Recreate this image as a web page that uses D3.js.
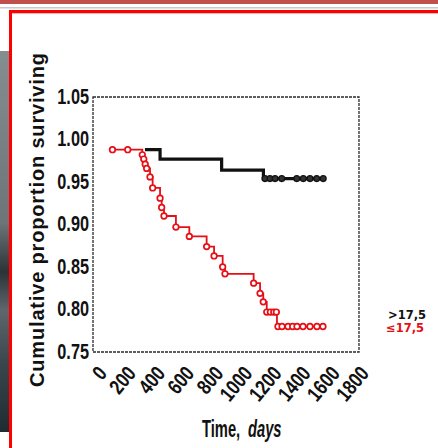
<!DOCTYPE html>
<html>
<head>
<meta charset="utf-8">
<script src="https://cdn.jsdelivr.net/npm/d3@7/dist/d3.min.js"></script>
<style>
  body { margin: 0; background: #fff; overflow: hidden; }
  svg { display: block; }
</style>
</head>
<body>
<svg id="chart" width="438" height="448"></svg>
<script>
// ---- data ----
const yTicks = [0.75, 0.80, 0.85, 0.90, 0.95, 1.00, 1.05];
const yTickLabels = ["0.75", "0.80", "0.85", "0.90", "0.95", "1.00", "1.05"];
const xTicks = [0, 200, 400, 600, 800, 1000, 1200, 1400, 1600, 1800];

// <=17,5 group (red): step times and survival after each step
const lowDays = [118, 325, 335, 345, 355, 378, 396, 447, 458, 474, 556, 648, 767, 818, 877, 893, 1090, 1134, 1156, 1180, 1250, 1580];
const lowSurv = [0.988, 0.982, 0.977, 0.971, 0.966, 0.956, 0.943, 0.931, 0.920, 0.910, 0.897, 0.886, 0.874, 0.863, 0.850, 0.842, 0.831, 0.819, 0.809, 0.797, 0.780, 0.780];
const lowMarks = [120, 225, 325, 335, 345, 355, 378, 396, 447, 458, 474, 556, 648, 767, 818, 877, 893, 1090, 1134, 1156, 1180, 1205, 1228, 1246,
                  1257, 1285, 1326, 1358, 1388, 1429, 1477, 1525, 1566];

// >17,5 group (black)
const highDays = [343, 447, 870, 1157, 1580];
const highSurv = [0.988, 0.977, 0.964, 0.954, 0.954];
const highMarks = [1168, 1202, 1237, 1283, 1386, 1431, 1477, 1523, 1568];

const legendLabels = [">17,5", "\u226417,5"];
const yTitle = "Cumulative proportion surviving";

// ---- layout ----
const svg = d3.select("#chart");
const plot = { left: 93, top: 97, right: 359, bottom: 352 };
const x = d3.scaleLinear().domain([0, 1800]).range([95, 357]);
const y = d3.scaleLinear().domain([0.75, 1.05]).range([plot.bottom, plot.top]);
const RED = "#e60f16";

// slide decoration
svg.append("rect").attr("x", 0).attr("y", 0).attr("width", 438).attr("height", 4).attr("fill", "#c0504d");
svg.append("rect").attr("x", 0).attr("y", 7).attr("width", 438).attr("height", 1.5).attr("fill", "#c9c9c9");

const grad = svg.append("defs").append("linearGradient").attr("id", "strip")
  .attr("x1", 0).attr("y1", 0).attr("x2", 0).attr("y2", 1);
[[0, "#848d90"], [0.45, "#6c7679"], [0.58, "#2b3337"], [0.68, "#5d676c"], [0.82, "#3a464d"], [1, "#1f2b33"]]
  .forEach(s => grad.append("stop").attr("offset", s[0]).attr("stop-color", s[1]));
svg.append("rect").attr("x", 0).attr("y", 51).attr("width", 9).attr("height", 381).attr("fill", "url(#strip)");

svg.append("rect").attr("x", 9).attr("y", 10).attr("width", 3).attr("height", 438).attr("fill", "#ff0000");
svg.append("rect").attr("x", 9).attr("y", 10).attr("width", 429).attr("height", 3).attr("fill", "#ff0000");
svg.append("rect").attr("x", 12).attr("y", 13).attr("width", 426).attr("height", 1).attr("fill", "#f6b4b4");

// plot frame
svg.append("rect")
  .attr("x", plot.left).attr("y", plot.top)
  .attr("width", plot.right - plot.left).attr("height", plot.bottom - plot.top)
  .attr("fill", "none").attr("stroke", "#2a2a2a").attr("stroke-width", 1.3)
  .attr("stroke-dasharray", "3,1");

// condensed look: squeeze each label to a share of its natural width
function squeeze(sel, k) {
  sel.each(function () {
    const w = this.getComputedTextLength();
    d3.select(this).attr("textLength", w * k).attr("lengthAdjust", "spacingAndGlyphs");
  });
}

const tickFont = "'Liberation Sans', Arial, sans-serif";

svg.append("g").selectAll("text")
  .data(yTicks)
  .join("text")
  .attr("x", 89)
  .attr("y", d => y(d))
  .attr("dy", "0.3em")
  .attr("text-anchor", "end")
  .attr("font-family", tickFont)
  .attr("font-weight", "bold")
  .attr("font-size", 22)
  .attr("fill", "#111")
  .text((d, i) => yTickLabels[i])
  .call(squeeze, 0.74);

svg.append("g").selectAll("text")
  .data(xTicks)
  .join("text")
  .attr("transform", d => `translate(${x(d) + 13},374) rotate(-50)`)
  .attr("text-anchor", "end")
  .attr("font-family", tickFont)
  .attr("font-weight", "bold")
  .attr("font-size", 21)
  .attr("fill", "#111")
  .text(d => d)
  .call(squeeze, 0.8);

// axis titles
svg.append("text")
  .attr("transform", "translate(44,220) rotate(-90)")
  .attr("text-anchor", "middle")
  .attr("font-family", tickFont)
  .attr("font-weight", "bold")
  .attr("font-size", 20)
  .attr("fill", "#111")
  .attr("textLength", 334)
  .attr("lengthAdjust", "spacing")
  .text(yTitle);

// "Time, days": condensed by a horizontal scale on each word
svg.append("text")
  .attr("transform", "translate(202,437) scale(0.64,1)")
  .attr("font-family", tickFont)
  .attr("font-weight", "bold")
  .attr("font-size", 23)
  .attr("fill", "#111")
  .text("Time,");
svg.append("text")
  .attr("transform", "translate(248,437) scale(0.64,1)")
  .attr("font-family", tickFont)
  .attr("font-weight", "bold")
  .attr("font-style", "italic")
  .attr("font-size", 23)
  .attr("fill", "#111")
  .text("days");

// survival curves
const stepLine = d3.line().x(d => x(d[0])).y(d => y(d[1])).curve(d3.curveStepAfter);
function survAt(days, surv, t) {
  let s = surv[0];
  for (let i = 0; i < days.length; i++) if (days[i] <= t) s = surv[i];
  return s;
}

svg.append("path")
  .datum(highDays.map((d, i) => [d, highSurv[i]]))
  .attr("d", stepLine)
  .attr("fill", "none").attr("stroke", "#111").attr("stroke-width", 3.2);

svg.append("g").selectAll("circle")
  .data(highMarks)
  .join("circle")
  .attr("cx", d => x(d))
  .attr("cy", d => y(survAt(highDays, highSurv, d)))
  .attr("r", 2.9)
  .attr("fill", "#333").attr("stroke", "#111").attr("stroke-width", 1.3);

svg.append("path")
  .datum(lowDays.map((d, i) => [d, lowSurv[i]]))
  .attr("d", stepLine)
  .attr("fill", "none").attr("stroke", RED).attr("stroke-width", 1.8);

svg.append("g").selectAll("circle")
  .data(lowMarks)
  .join("circle")
  .attr("cx", d => x(d))
  .attr("cy", d => y(survAt(lowDays, lowSurv, d)))
  .attr("r", 2.8)
  .attr("fill", "#fff").attr("stroke", RED).attr("stroke-width", 1.7);

// legend
svg.append("g").selectAll("text")
  .data(legendLabels)
  .join("text")
  .attr("x", (d, i) => i === 0 ? 388 : 386)
  .attr("y", (d, i) => 319 + i * 12.5)
  .attr("font-family", "'DejaVu Sans', Verdana, sans-serif")
  .attr("font-weight", "bold")
  .attr("font-size", 11.5)
  .attr("fill", (d, i) => i === 0 ? "#111" : RED)
  .text(d => d);
</script>
</body>
</html>
